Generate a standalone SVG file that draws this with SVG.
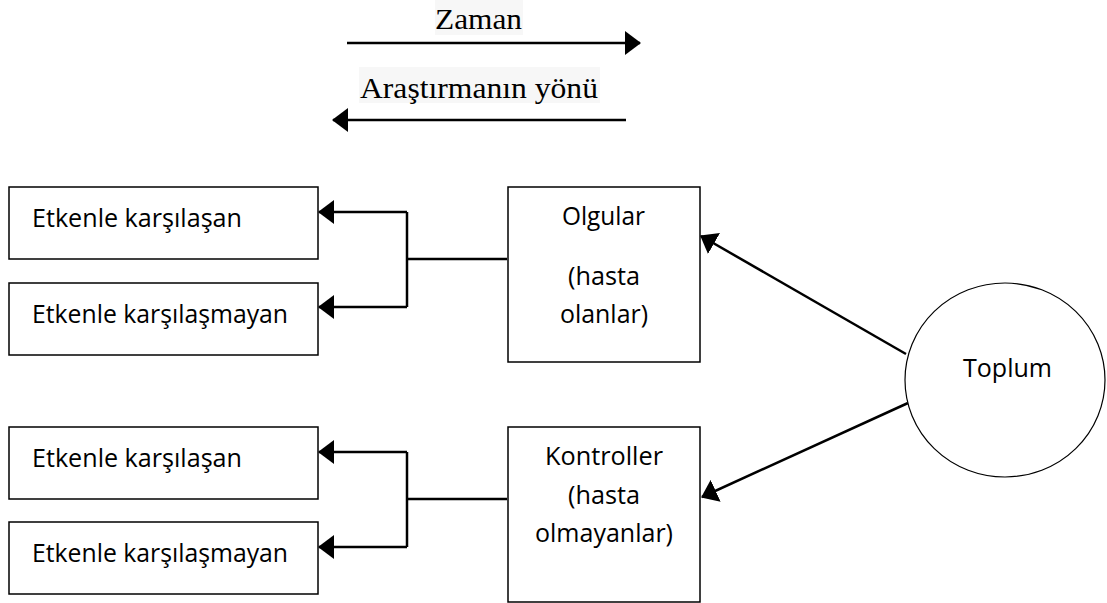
<svg xmlns="http://www.w3.org/2000/svg" width="1107" height="603" viewBox="0 0 1107 603">
<defs>
<style>
.box{fill:#fff;stroke:#000;stroke-width:1.5}
.lbl{font-family:"Open Sans","Noto Sans","Liberation Sans",sans-serif;font-size:25px;fill:#000}
.ser{font-family:"Liberation Serif","DejaVu Serif",serif;font-size:30px;fill:#000}
.con{fill:none;stroke:#000;stroke-width:2.5}
.hl{fill:#f7f7f7}
</style>
<marker id="ah" viewBox="0 0 16 24" refX="15" refY="12" markerWidth="16" markerHeight="24" markerUnits="userSpaceOnUse" orient="auto">
<path d="M0,0 L16,12 L0,24 Z" fill="#000"/>
</marker>
</defs>
<rect width="1107" height="603" fill="#fff"/>
<g id="legend">
<rect class="hl" x="435" y="0" width="88" height="35"/>
<text class="ser" x="435" y="29" textLength="87" lengthAdjust="spacingAndGlyphs">Zaman</text>
<rect class="hl" x="359" y="67" width="241" height="36"/>
<text class="ser" x="360" y="98" textLength="238" lengthAdjust="spacingAndGlyphs">Araştırmanın yönü</text>
</g>
<g id="connectors">
<line class="con" x1="347" y1="43" x2="640" y2="43" marker-end="url(#ah)"/>
<line class="con" x1="626" y1="120" x2="333" y2="120" marker-end="url(#ah)"/>
<line class="con" x1="507" y1="259" x2="407" y2="259"/>
<polyline class="con" points="407,212 407,307"/>
<line class="con" x1="407" y1="212" x2="319" y2="212" marker-end="url(#ah)"/>
<line class="con" x1="407" y1="307" x2="319" y2="307" marker-end="url(#ah)"/>
<line class="con" x1="507" y1="499" x2="407" y2="499"/>
<polyline class="con" points="407,452 407,547"/>
<line class="con" x1="407" y1="452" x2="319" y2="452" marker-end="url(#ah)"/>
<line class="con" x1="407" y1="547" x2="319" y2="547" marker-end="url(#ah)"/>
<line class="con" x1="906" y1="354" x2="701" y2="236" marker-end="url(#ah)"/>
<line class="con" x1="908" y1="403" x2="702" y2="497" marker-end="url(#ah)"/>
</g>
<g id="exp1">
<rect class="box" x="9" y="187" width="309" height="72"/>
<text class="lbl" x="32" y="227" textLength="210" lengthAdjust="spacingAndGlyphs">Etkenle karşılaşan</text>
</g>
<g id="unexp1">
<rect class="box" x="9" y="283" width="309" height="72"/>
<text class="lbl" x="32" y="323" textLength="256" lengthAdjust="spacingAndGlyphs">Etkenle karşılaşmayan</text>
</g>
<g id="exp2">
<rect class="box" x="9" y="427" width="309" height="72"/>
<text class="lbl" x="32" y="467" textLength="210" lengthAdjust="spacingAndGlyphs">Etkenle karşılaşan</text>
</g>
<g id="unexp2">
<rect class="box" x="9" y="522" width="309" height="72"/>
<text class="lbl" x="32" y="562" textLength="256" lengthAdjust="spacingAndGlyphs">Etkenle karşılaşmayan</text>
</g>
<g id="olgular">
<rect class="box" x="508" y="187" width="192" height="175"/>
<text class="lbl" x="562" y="225" textLength="83" lengthAdjust="spacingAndGlyphs">Olgular</text>
<text class="lbl" x="568" y="285" textLength="72" lengthAdjust="spacingAndGlyphs">(hasta</text>
<text class="lbl" x="560" y="323" textLength="88" lengthAdjust="spacingAndGlyphs">olanlar)</text>
</g>
<g id="kontroller">
<rect class="box" x="508" y="427" width="192" height="175"/>
<text class="lbl" x="545" y="465" textLength="118" lengthAdjust="spacingAndGlyphs">Kontroller</text>
<text class="lbl" x="568" y="504" textLength="72" lengthAdjust="spacingAndGlyphs">(hasta</text>
<text class="lbl" x="535" y="542" textLength="138" lengthAdjust="spacingAndGlyphs">olmayanlar)</text>
</g>
<g id="toplum">
<ellipse cx="1005" cy="380" rx="100" ry="97" fill="#fff" stroke="#000" stroke-width="1.2"/>
<text class="lbl" x="963" y="377" textLength="89" lengthAdjust="spacingAndGlyphs">Toplum</text>
</g>
</svg>
